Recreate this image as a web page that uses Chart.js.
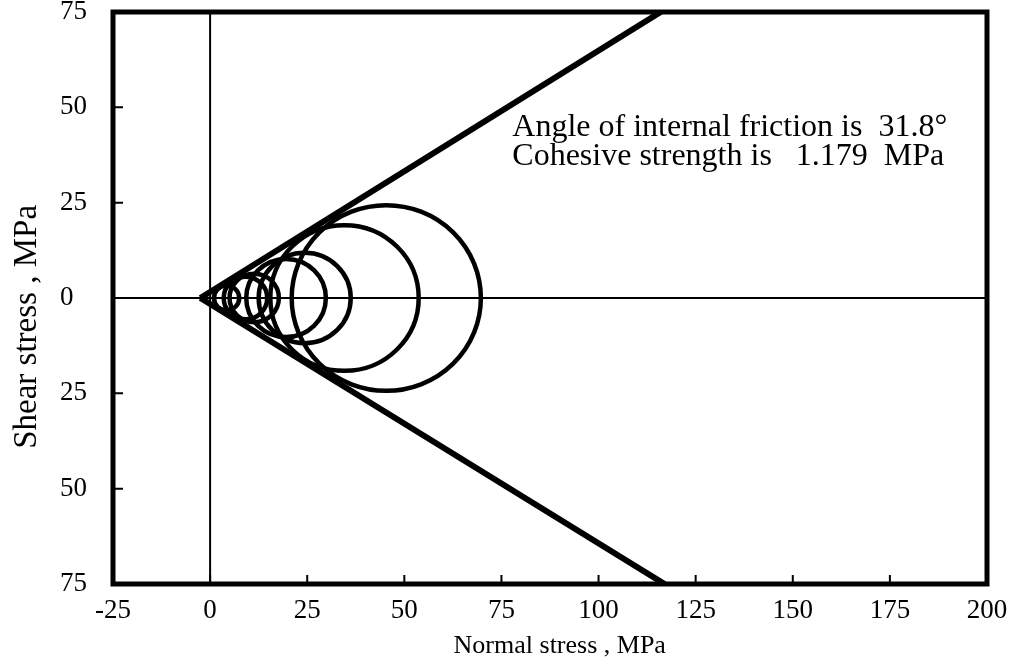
<!DOCTYPE html>
<html>
<head>
<meta charset="utf-8">
<script src="https://cdn.jsdelivr.net/npm/chart.js@4.4.0/dist/chart.umd.min.js"></script>
<style>
  html, body { margin: 0; padding: 0; background: #fff; }
  #wrap { width: 1012px; height: 666px; }
</style>
</head>
<body>
<div id="wrap"><canvas id="myChart"></canvas></div>
<script>
// Mohr circles: confining stress and peak stress, MPa
let sigma3 = [1.0, 3.5, 5.0, 9.3, 12.5, 15.5, 21.0];
let sigma1 = [7.5, 14.7, 17.7, 29.8, 36.2, 53.7, 69.7];

// failure envelope end points (normal stress, shear stress)
let envelopeUpperX = [-2.5, 116];
let envelopeUpperY = [0, 75];
let envelopeLowerX = [-2.5, 117];
let envelopeLowerY = [0, -75];

let xTicks = [-25, 0, 25, 50, 75, 100, 125, 150, 175, 200];
let yTicks = [-75, -50, -25, 0, 25, 50, 75];
let yTickLabels = ['75', '50', '25', '0', '25', '50', '75'];

let noteLines = ['Angle of internal friction is  31.8°', 'Cohesive strength is   1.179  MPa'];

const serif = '"Liberation Serif", "Times New Roman", serif';

const toPoints = (xs, ys) => xs.map((v, i) => ({x: v, y: ys[i]}));

// circles, zero lines, frame, inner ticks and the note
const mohrPlugin = {
    id: 'mohr',
    beforeDatasetsDraw(chart) {
        const {ctx, chartArea: a, scales: {x, y}} = chart;
        ctx.save();
        ctx.strokeStyle = '#000';
        ctx.lineWidth = 2;
        ctx.beginPath();
        ctx.moveTo(x.getPixelForValue(0), a.top);
        ctx.lineTo(x.getPixelForValue(0), a.bottom);
        ctx.moveTo(a.left, y.getPixelForValue(0));
        ctx.lineTo(a.right, y.getPixelForValue(0));
        ctx.stroke();

        ctx.lineWidth = 4.5;
        for (let i = 0; i < sigma1.length; i++) {
            const c = (sigma1[i] + sigma3[i]) / 2;
            const r = (sigma1[i] - sigma3[i]) / 2;
            const cx = x.getPixelForValue(c);
            const cy = y.getPixelForValue(0);
            const rx = x.getPixelForValue(c + r) - cx;
            const ry = cy - y.getPixelForValue(r);
            ctx.beginPath();
            ctx.ellipse(cx, cy, rx, ry, 0, 0, Math.PI * 2);
            ctx.stroke();
        }
        ctx.restore();
    },
    afterDatasetsDraw(chart) {
        const {ctx, chartArea: a, scales: {x, y}} = chart;
        ctx.save();
        ctx.strokeStyle = '#000';
        ctx.lineWidth = 2;
        ctx.beginPath();
        x.ticks.forEach(t => {
            const px = x.getPixelForValue(t.value);
            ctx.moveTo(px, a.bottom);
            ctx.lineTo(px, a.bottom - 9);
        });
        y.ticks.forEach(t => {
            const py = y.getPixelForValue(t.value);
            ctx.moveTo(a.left, py);
            ctx.lineTo(a.left + 10, py);
        });
        ctx.stroke();

        ctx.lineWidth = 5;
        ctx.strokeRect(a.left, a.top, a.right - a.left, a.bottom - a.top);

        ctx.fillStyle = '#000';
        ctx.font = '32px ' + serif;
        ctx.textBaseline = 'middle';
        ctx.textAlign = 'left';
        const nx = x.getPixelForValue(77.8);
        ctx.fillText(noteLines[0], nx, y.getPixelForValue(44.8));
        ctx.fillText(noteLines[1], nx, y.getPixelForValue(37.0));
        ctx.restore();
    }
};

const noPad = s => { s.paddingTop = 0; s.paddingBottom = 0; s.paddingLeft = 0; s.paddingRight = 0; };

const ctx = document.getElementById('myChart').getContext('2d');
const myChart = new Chart(ctx, {
    type: 'scatter',
    data: {
        datasets: [{
            label: 'envelope upper',
            data: toPoints(envelopeUpperX, envelopeUpperY),
            showLine: true,
            borderColor: '#000',
            borderWidth: 6,
            pointRadius: 0
        }, {
            label: 'envelope lower',
            data: toPoints(envelopeLowerX, envelopeLowerY),
            showLine: true,
            borderColor: '#000',
            borderWidth: 6,
            pointRadius: 0
        }]
    },
    options: {
        responsive: true,
        maintainAspectRatio: false,
        animation: false,
        layout: {padding: {top: 12, right: 25, bottom: 0, left: 0}},
        plugins: {legend: {display: false}, tooltip: {enabled: false}},
        scales: {
            x: {
                type: 'linear',
                min: -25,
                max: 200,
                afterBuildTicks: s => { s.ticks = xTicks.map(v => ({value: v})); },
                afterFit: s => { s.height = 82; noPad(s); },
                grid: {display: false, drawTicks: false},
                border: {display: false},
                ticks: {color: '#000', padding: 11, maxRotation: 0, font: {family: serif, size: 27}},
                title: {display: true, text: '   Normal stress , MPa', color: '#000', padding: {top: 0, bottom: 4}, font: {family: serif, size: 26}}
            },
            y: {
                type: 'linear',
                min: -75,
                max: 75,
                afterBuildTicks: s => { s.ticks = yTicks.map(v => ({value: v})); },
                afterFit: s => { s.width = 113; noPad(s); },
                grid: {display: false, drawTicks: false},
                border: {display: false},
                ticks: {
                    color: '#000',
                    padding: 26,
                    font: {family: serif, size: 27},
                    // labels sit flush left in the original, pad short ones with figure spaces
                    callback: v => yTickLabels[yTicks.indexOf(v)].padEnd(2, '\u2007')
                },
                title: {display: true, text: 'Shear stress , MPa       ', color: '#000', padding: {top: 8, bottom: 0}, font: {family: serif, size: 33}}
            }
        }
    },
    plugins: [mohrPlugin]
});
</script>
</body>
</html>
